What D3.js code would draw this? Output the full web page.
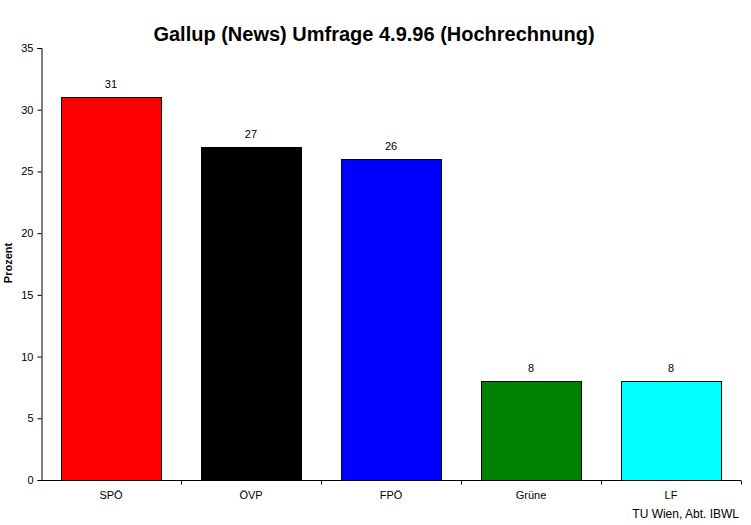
<!DOCTYPE html>
<html><head><meta charset="utf-8">
<script src="https://cdn.jsdelivr.net/npm/d3@7"></script>
<style>body{margin:0;background:#fff}svg{display:block}text{font-family:Arial,"Liberation Sans",sans-serif}</style>
</head><body>
<script>
const categories = ["SPÖ", "ÖVP", "FPÖ", "Grüne", "LF"];
const values = [31, 27, 26, 8, 8];
const colors = ["#ff0000", "#000000", "#0000ff", "#008000", "#00ffff"];
const yTicks = [0, 5, 10, 15, 20, 25, 30, 35];
const title = "Gallup (News) Umfrage 4.9.96 (Hochrechnung)";
const yLabel = "Prozent";
const footer = "TU Wien, Abt. IBWL";

const W = 751, H = 525;
const m = {left: 41, right: 10, top: 48, bottom: 45};
const svg = d3.select("body").append("svg").attr("width", W).attr("height", H);

const x = d3.scaleBand().domain(categories).range([m.left, W - m.right]).paddingInner(0.2857).paddingOuter(0.1428);
const y = d3.scaleLinear().domain([0, 35]).range([H - m.bottom, m.top]);

svg.append("text").attr("x", 374).attr("y", 41).attr("text-anchor", "middle")
  .attr("font-weight", "bold").attr("font-size", 20).text(title);

svg.selectAll("rect.bar").data(values).enter().append("rect")
  .attr("x", (d, i) => Math.round(x(categories[i])) + 0.5)
  .attr("y", d => Math.round(y(d)) + 0.5)
  .attr("width", Math.floor(x.bandwidth()))
  .attr("height", d => Math.round(y(0)) - Math.round(y(d)))
  .attr("fill", (d, i) => colors[i]).attr("stroke", "#000").attr("stroke-width", 1);

svg.selectAll("text.val").data(values).enter().append("text")
  .attr("x", (d, i) => x(categories[i]) + x.bandwidth() / 2)
  .attr("y", d => y(d) - 9).attr("text-anchor", "middle").attr("font-size", 11).text(d => d);

const yAxis = d3.axisLeft(y).tickValues(yTicks).tickSize(4).tickPadding(4);
const gy = svg.append("g").attr("transform", `translate(${m.left + 0.5},0)`).call(yAxis);
gy.select(".domain").attr("stroke", "#000");
gy.selectAll("text").attr("font-size", 11).attr("font-family", "Arial, 'Liberation Sans', sans-serif").attr("fill", "#000");

const xb = d3.scaleLinear().domain([0, categories.length]).range([m.left, W - m.right]);
const gx = svg.append("g").attr("transform", `translate(0,${H - m.bottom + 0.5})`);
gx.append("line").attr("x1", m.left).attr("x2", W - m.right).attr("stroke", "#000");
gx.selectAll("line.t").data(d3.range(1, categories.length + 1)).enter().append("line")
  .attr("x1", d => Math.round(xb(d)) + 0.5).attr("x2", d => Math.round(xb(d)) + 0.5)
  .attr("y1", 0).attr("y2", 4).attr("stroke", "#000");
gx.selectAll("text").data(categories).enter().append("text")
  .attr("x", d => x(d) + x.bandwidth() / 2).attr("y", 18).attr("text-anchor", "middle")
  .attr("font-size", 11).text(d => d);

svg.append("text").attr("transform", "translate(12,263) rotate(-90)").attr("text-anchor", "middle")
  .attr("font-weight", "bold").attr("font-size", 11).text(yLabel);

svg.append("text").attr("x", 739).attr("y", 518).attr("text-anchor", "end").attr("font-size", 12).text(footer);
</script>
</body></html>
